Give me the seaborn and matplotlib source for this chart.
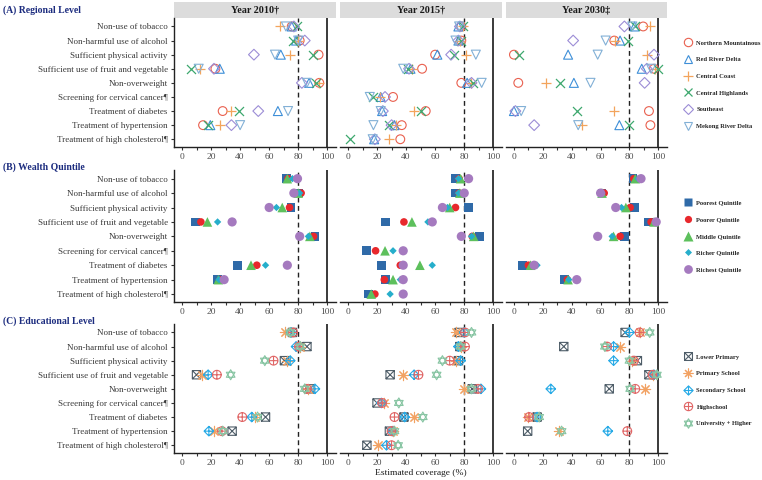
import numpy as np
import pandas as pd
import matplotlib
matplotlib.use("Agg")
import matplotlib.pyplot as plt
import seaborn as sns
from matplotlib.path import Path
from matplotlib.lines import Line2D
from matplotlib.patches import Rectangle

# ---------------- data ----------------
categories = ["Non-use of tobacco", "Non-harmful use of alcohol", "Sufficient physical activity",
              "Sufficient use of fruit and vegetable", "Non-overweight", "Screening for cervical cancer\u00b6",
              "Treatment of diabetes", "Treatment of hypertension", "Treatment of high cholesterol\u00b6"]
years = ["Year 2010\u2020", "Year 2015\u2020", "Year 2030\u2021"]
x_ticks = [0, 20, 40, 60, 80, 100]

region_labels = ["Northern Mountainous", "Red River Delta", "Central Coast",
                 "Central Highlands", "Southeast", "Mekong River Delta"]
# each: [2010, 2015, 2030] over the 9 categories (None = not estimated)
northern_mountainous = [[75.5, 81, 94, 23, 94.5, None, 28, 14.5, None],
                        [78, 78, 60, 51, 78, 31, 53.5, 37, 36],
                        [89.5, 69.5, 0, 97, 3, None, 93.5, 94.5, None]]
red_river_delta = [[75.5, 78.5, 68, 26, 87.5, None, 66, 19.5, None],
                   [76, 76, 61.5, 43, 82, 22.5, 23.5, 32, 18],
                   [83.5, 73.5, 37.5, 88.5, 41.5, None, 0, 73, None]]
central_coast = [[67.5, 80, 74, 12.5, 94, None, 33.5, 26, None],
                 [79, 77, 81, 44, 85, 22, 45.5, 33, 28],
                 [94, 70, 92, 98, 22.5, None, 69.5, 47, None]]
central_highlands = [[79, 76.5, 90.5, 6.5, 92.5, None, 39.5, 18, None],
                     [79.5, 77.5, 73, 41, 86, 17.5, 50.5, 28, 1.5],
                     [84, 79, 3.5, 100, 32, None, 44, 80, None]]
southeast = [[77, 84.5, 49.5, 22, 82.5, None, 52.5, 34, None],
             [77, 76, 71, 42, 85, 25.5, 24, 30, 18.5],
             [76.5, 41, 97, 92, 90.5, None, 1, 14, None]]
mekong_river_delta = [[71.5, 80, 64, 11.5, 86, None, 73, 40, None],
                      [76.5, 74, 88, 38, 92, 15, 22.5, 17.5, 17],
                      [82, 63.5, 58, 95, 53, None, 5, 44.5, None]]

wealth_labels = ["Poorest Quintile", "Poorer Quintile", "Middle Quintile", "Richer Quintile", "Richest Quintile"]
poorest = [[72, 80, 75, 9.5, 91.5, None, 38, 24.5, None],
           [74, 74, 83, 26, 90.5, 12.5, 23, 26, 14],
           [82.5, 61, 83.5, 93, 76.5, None, 6, 35, None]]
poorer = [[73, 82, 74, 13, 90.5, None, 51.5, 26.5, None],
          [76.5, 76.5, 74, 38.5, 85.5, 19, 36, 25, 18.5],
          [83, 62.5, 80.5, 95, 73.5, None, 10, 37, None]]
middle = [[72.5, 80, 69, 17.5, 88, None, 47.5, 25, None],
          [77.5, 77, 70, 44, 86.5, 25.5, 49.5, 31, 16],
          [84, 61, 77.5, 97, 69, None, 11.5, 37.5, None]]
richer = [[76, 81, 65, 24.5, 87, None, 57.5, 25.5, None],
          [76, 76, 68.5, 55, 85, 31, 58, 36, 29],
          [86, 61, 74.5, 98, 68, None, 16, 38, None]]
richest = [[79.5, 77, 60, 34.5, 81, None, 72.5, 29, None],
           [83, 80, 65, 58, 78, 38, 38, 38, 38],
           [88, 60, 70.5, 98.5, 58, None, 14, 43.5, None]]

edu_labels = ["Lower Primary", "Primary School", "Secondary School", "Highschool", "University + Higher"]
lower_primary = [[76, 86, 70.5, 10, 88, None, 57.5, 34.5, None],
                 [76.5, 77, 76, 29, 85.5, 20, 38.5, 28.5, 13],
                 [77, 34.5, 85.5, 93.5, 66, None, 16, 9.5, None]]
primary_school = [[71, 81, 72, 14, 87, None, 50, 22, None],
                  [74.5, 78, 74.5, 38, 80, 24.5, 45.5, 31, 20.5],
                  [87.5, 73.5, 82, 96.5, 91, None, 10, 31, None]]
secondary_school = [[75, 78.5, 74.5, 18, 91.5, None, 48, 18.5, None],
                    [80, 76, 77.5, 45.5, 91.5, 23, 39, 30.5, 26.5],
                    [80, 69, 69, 97, 25.5, None, 16, 65, None]]
highschool = [[76.5, 80.5, 63, 24, 86, None, 41.5, 27.5, None],
              [80.5, 80.5, 70, 48.5, 89.5, 23.5, 32, 30, 30],
              [87, 64.5, 83, 96, 84, None, 10.5, 78.5, None]]
university = [[74.5, 81.5, 57, 33.5, 84.5, None, 52, 28, None],
              [85, 77.5, 65, 61, 85, 35, 51.5, 32, 34.5],
              [94, 63, 80, 99, 80.5, None, 17.5, 33, None]]

# ---------------- marker shapes ----------------
M, L, C = Path.MOVETO, Path.LINETO, Path.CLOSEPOLY
box_times = Path([(-1, -1), (1, -1), (1, 1), (-1, 1), (-1, -1), (-1, -1), (1, 1), (-1, 1), (1, -1)],
                 [M, L, L, L, C, M, L, M, L])
diamond_plus = Path([(0, 1), (1, 0), (0, -1), (-1, 0), (0, 1), (0, 1), (0, -1), (-1, 0), (1, 0)],
                    [M, L, L, L, C, M, L, M, L])
circle_plus = Path.make_compound_path(
    Path.unit_circle(), Path([(0, -1), (0, 1), (-1, 0), (1, 0)], [M, L, M, L]))
hexagram = Path([(0, 1), (-0.866, -0.5), (0.866, -0.5), (0, 1),
                 (0, -1), (-0.866, 0.5), (0.866, 0.5), (0, -1)],
                [M, L, L, C, M, L, L, C])

groups = [
    dict(title="(A) Regional Level", labels=region_labels,
         series=[northern_mountainous, red_river_delta, central_coast, central_highlands, southeast, mekong_river_delta],
         styles=[("o", "open", "#E9604F", 40, 0.8), ("^", "open", "#3E8FD8", 42, 0.8),
                 ("+", "line", "#F3A45C", 62, 0.9), ("x", "line", "#3DA86E", 42, 0.9),
                 ("D", "open", "#9C8DD6", 30, 0.8), ("v", "open", "#82B0D6", 42, 0.8)]),
    dict(title="(B) Wealth Quintile", labels=wealth_labels,
         series=[poorest, poorer, middle, richer, richest],
         styles=[("s", "fill", "#2F6AA8", 40, 0), ("o", "fill", "#E8282C", 30, 0),
                 ("^", "fill", "#5DC05C", 48, 0), ("D", "fill", "#26AECB", 14, 0),
                 ("o", "fill", "#A57ABF", 44, 0)]),
    dict(title="(C) Educational Level", labels=edu_labels,
         series=[lower_primary, primary_school, secondary_school, highschool, university],
         styles=[(box_times, "open", "#4E5D68", 36, 0.8), ((8, 2, 0), "line", "#F2A263", 55, 0.8),
                 (diamond_plus, "open", "#27AAE6", 48, 0.8), (circle_plus, "open", "#E06666", 40, 0.8),
                 (hexagram, "open", "#88C5A3", 52, 0.8)]),
]

# ---------------- style ----------------
sns.set_theme(style="ticks")
serif = ["Liberation Serif", "DejaVu Serif"]
plt.rcParams["font.family"] = serif

W, H = 762, 480
fig = plt.figure(figsize=(W / 100, H / 100), dpi=100)

panel_x = [(174, 336), (340, 502), (506, 667)]
row_y = [(18, 147), (170, 302), (324, 453)]
row_title_y = [10, 167, 321]
legend_top = [40, 200, 354]


def rect(x0, x1, yt, yb):
    return [x0 / W, 1 - yb / H, (x1 - x0) / W, (yb - yt) / H]


def draw_series(ax, vals, style):
    marker, mode, color, s, lw = style
    df = pd.DataFrame({"coverage": np.array(vals, dtype=float),
                       "pos": np.arange(len(categories))}).dropna()
    kw = dict(marker=marker, s=s, zorder=3, legend=False, color=color)
    if mode == "open":
        kw.update(facecolor="none", edgecolor=color, linewidth=lw)
    elif mode == "line":
        kw.update(linewidth=lw)
    else:
        kw.update(edgecolor="none", linewidth=0)
    sns.scatterplot(data=df, x="coverage", y="pos", ax=ax, **kw)


for gi, g in enumerate(groups):
    yt, yb = row_y[gi]
    for yi in range(3):
        x0, x1 = panel_x[yi]
        ax = fig.add_axes(rect(x0, x1, yt, yb))
        ax.axvline(80, color="#222222", lw=1.0, ls=(0, (3.5, 2.5)), zorder=2)
        ax.axvline(100, color="#3a3a3a", lw=1.4, zorder=2)
        for ser, st in zip(g["series"], g["styles"]):
            draw_series(ax, ser[yi], st)
        ax.set_xlim(-5.5, 106)
        ax.set_ylim(8.55, -0.6)
        ax.set_xlabel("")
        ax.set_ylabel("")
        ax.set_xticks(x_ticks)
        ax.set_xticklabels([str(t) for t in x_ticks])
        ax.set_xticks([10, 30, 50, 70, 90], minor=True)
        ax.tick_params(axis="x", which="both", length=2.5, width=0.8, color="#333333",
                       labelsize=6.8, labelcolor="#4D4D4D", pad=2)
        ax.set_yticks(range(len(categories)))
        for sp in ["top", "right"]:
            ax.spines[sp].set_visible(False)
        ax.spines["bottom"].set_linewidth(1.0)
        ax.spines["bottom"].set_color("#222222")
        if yi == 0:
            ax.set_yticklabels(categories)
            ax.tick_params(axis="y", length=2.5, width=0.8, color="#333333",
                           labelsize=6.5, labelcolor="#3A3A3A", pad=2)
            ax.spines["left"].set_linewidth(1.0)
            ax.spines["left"].set_color("#222222")
        else:
            ax.set_yticklabels([])
            ax.tick_params(axis="y", length=0)
            ax.spines["left"].set_visible(False)
        ax.set_facecolor("white")
        if gi == 0:
            hgt = 16 / (yb - yt)
            ax.add_patch(Rectangle((0, 1.0), 1, hgt, transform=ax.transAxes, clip_on=False,
                                   facecolor="#DCDCDC", edgecolor="none", zorder=1))
            ax.text(0.5, 1 + hgt / 2, years[yi], transform=ax.transAxes, ha="center", va="center",
                    fontsize=7.3, fontweight="bold", color="#1A1A1A")
        if gi == 2 and yi == 1:
            ax.set_xlabel("Estimated coverage (%)", fontsize=6.8, color="#1A1A1A", labelpad=1.5)

    fig.text(3 / W, 1 - row_title_y[gi] / H, g["title"], fontsize=7, fontweight="bold",
             color="#1B2B7E", va="center", ha="left")

    handles = []
    for st in g["styles"]:
        marker, mode, color, s, lw = st
        ms = np.sqrt(s) * 0.95
        if mode == "open":
            h = Line2D([0], [0], marker=marker, linestyle="none", markersize=ms,
                       markerfacecolor="none", markeredgecolor=color, markeredgewidth=lw)
        elif mode == "line":
            h = Line2D([0], [0], marker=marker, linestyle="none", markersize=ms,
                       color=color, markeredgewidth=lw)
        else:
            h = Line2D([0], [0], marker=marker, linestyle="none", markersize=ms,
                       markerfacecolor=color, markeredgecolor="none")
        handles.append(h)
    fig.legend(handles, g["labels"], loc="upper left",
               bbox_to_anchor=(685 / W, 1 - legend_top[gi] / H), frameon=False,
               prop=dict(size=4.7, weight="bold", family=serif),
               labelspacing=1.7, handlelength=1.0, handletextpad=0.75,
               borderpad=0, borderaxespad=0)

fig.savefig("out.png", dpi=100)
